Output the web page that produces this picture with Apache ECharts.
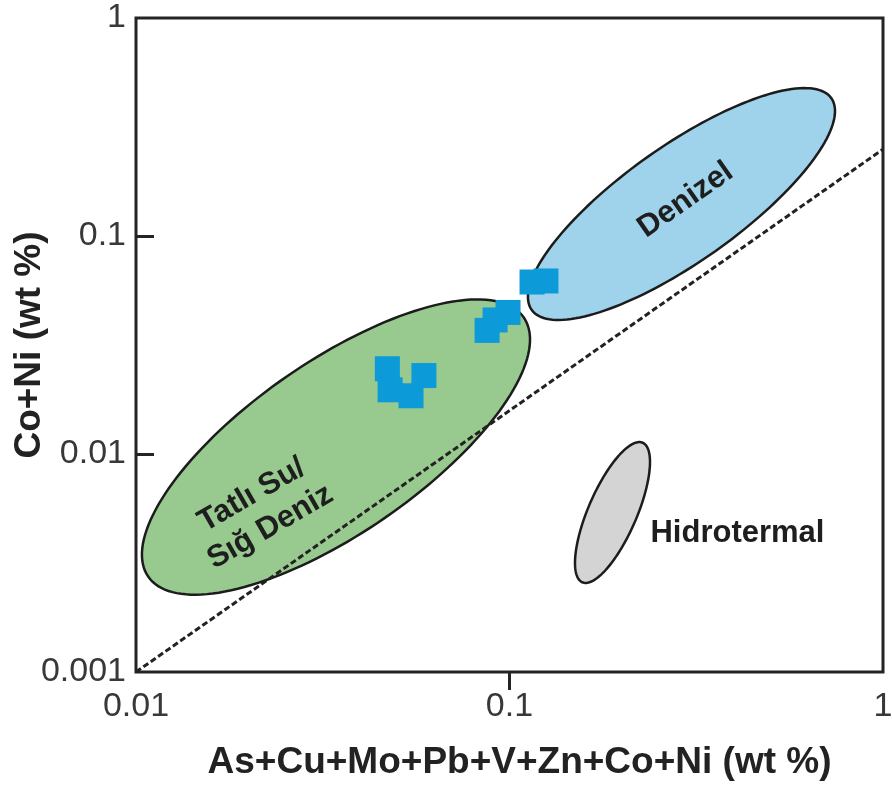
<!DOCTYPE html>
<html>
<head>
<meta charset="utf-8">
<script src="https://cdn.jsdelivr.net/npm/echarts@6/dist/echarts.min.js"></script>
<style>
  html, body { margin: 0; padding: 0; background: #ffffff; }
  #chart { width: 892px; height: 791px; }
</style>
</head>
<body>
<div id="chart"></div>
<script>
// ---- data ----
// sample points (As+Cu+Mo+Pb+V+Zn+Co+Ni, Co+Ni), wt %
const sampleX = [0.0471, 0.0479, 0.0545, 0.0590, 0.0871, 0.0915, 0.0991, 0.1149, 0.1252];
const sampleY = [0.0246, 0.0197, 0.0185, 0.0229, 0.0369, 0.0412, 0.0446, 0.0615, 0.0622];

// boundary line
const lineX = [0.01, 1];
const lineY = [0.001, 0.25];

// field regions (ellipses): centre, end of long axis, end of short axis (data units)
const regionNames   = ['Tatlı Su/\nSığ Deniz', 'Denizel', 'Hidrotermal'];
const regionCX      = [0.03431, 0.2887, 0.1887];
const regionCY      = [0.01076, 0.1402, 0.005391];
const regionTipX    = [0.1092, 0.7272, 0.2273];
const regionTipY    = [0.04227, 0.4286, 0.01126];
const regionSideX   = [0.02540, 0.2349, 0.1645];
const regionSideY   = [0.02275, 0.2313, 0.005967];
const regionLabelX  = [0.02162, 0.2959, 0.4077];
const regionLabelY  = [0.005476, 0.1462, 0.004340];

// axis ticks
const xTicks = [0.01, 0.1, 1];
const yTicks = [0.001, 0.01, 0.1, 1];

// ---- styles ----
const regionFill   = ['#98c98e', '#9fd2eb', '#d4d4d4'];
const regionRotate = [30, 35, 0];
const FONT = "'Liberation Sans', Arial, Helvetica, sans-serif";

const regionData = regionNames.map((n, i) => [
  regionCX[i], regionCY[i], regionTipX[i], regionTipY[i],
  regionSideX[i], regionSideY[i], regionLabelX[i], regionLabelY[i]
]);

function fmt(v) {
  return String(parseFloat(Number(v).toPrecision(3)));
}

const chart = echarts.init(document.getElementById('chart'), null, { renderer: 'canvas' });

chart.setOption({
  animation: false,
  backgroundColor: '#ffffff',
  grid: {
    left: 136, top: 18, right: 9, bottom: 119,
    show: true, borderColor: '#242424', borderWidth: 3,
    containLabel: false, outerBoundsMode: 'none'
  },
  xAxis: {
    type: 'log', logBase: 10, min: xTicks[0], max: xTicks[xTicks.length - 1],
    name: 'As+Cu+Mo+Pb+V+Zn+Co+Ni (wt %)',
    nameLocation: 'middle', nameGap: 72, nameMoveOverlap: false,
    nameTextStyle: { fontFamily: FONT, fontWeight: 'bold', fontSize: 37, color: '#222', padding: [0, 0, 0, 20] },
    axisLine: { show: false },
    axisTick: { show: true, inside: false, length: 18, customValues: [0.1], lineStyle: { color: '#242424', width: 3 } },
    axisLabel: { fontFamily: FONT, fontSize: 34, color: '#383838', margin: 18, formatter: fmt, customValues: xTicks },
    splitLine: { show: false }, minorTick: { show: false }
  },
  yAxis: {
    type: 'log', logBase: 10, min: yTicks[0], max: yTicks[yTicks.length - 1],
    name: 'Co+Ni (wt %)',
    nameLocation: 'middle', nameGap: 88, nameRotate: 90, nameMoveOverlap: false,
    nameTextStyle: { fontFamily: FONT, fontWeight: 'bold', fontSize: 37, color: '#222' },
    axisLine: { show: false },
    axisTick: { show: true, inside: true, length: 18, customValues: [0.01, 0.1], lineStyle: { color: '#242424', width: 3 } },
    axisLabel: { fontFamily: FONT, fontSize: 34, color: '#383838', margin: 10, formatter: fmt, customValues: yTicks },
    splitLine: { show: false }, minorTick: { show: false }
  },
  series: [
    {
      type: 'custom',
      name: 'fields',
      z: 1,
      encode: { x: 0, y: 1 },
      data: regionData,
      renderItem: function (params, api) {
        const i = params.dataIndex;
        const c = api.coord([api.value(0), api.value(1)]);
        const t = api.coord([api.value(2), api.value(3)]);
        const s = api.coord([api.value(4), api.value(5)]);
        const l = api.coord([api.value(6), api.value(7)]);
        const ux = t[0] - c[0], uy = t[1] - c[1];
        const a = Math.hypot(ux, uy);
        const b = Math.hypot(s[0] - c[0], s[1] - c[1]);
        const cu = ux / a, su = uy / a;
        const pts = [];
        const N = 160;
        for (let k = 0; k < N; k++) {
          const th = (k / N) * Math.PI * 2;
          const p = a * Math.cos(th), q = b * Math.sin(th);
          pts.push([c[0] + p * cu - q * su, c[1] + p * su + q * cu]);
        }
        return {
          type: 'group',
          children: [
            {
              type: 'polygon',
              shape: { points: pts },
              style: { fill: regionFill[i], stroke: '#1c1c1c', lineWidth: 2.5 }
            },
            {
              type: 'text',
              x: l[0], y: l[1],
              rotation: regionRotate[i] * Math.PI / 180,
              style: {
                text: regionNames[i],
                font: 'bold 31px ' + FONT,
                fill: '#1e1e1e',
                align: 'center', verticalAlign: 'middle',
                lineHeight: 37
              }
            }
          ]
        };
      }
    },
    {
      type: 'line',
      name: 'boundary',
      z: 2,
      data: lineX.map((x, i) => [x, lineY[i]]),
      symbol: 'none',
      lineStyle: { color: '#222', width: 3, type: [6, 3] }
    },
    {
      type: 'scatter',
      name: 'samples',
      z: 3,
      data: sampleX.map((x, i) => [x, sampleY[i]]),
      symbol: 'rect',
      symbolSize: 25,
      itemStyle: { color: '#0c9ad8', opacity: 1 }
    }
  ]
});
</script>
</body>
</html>
